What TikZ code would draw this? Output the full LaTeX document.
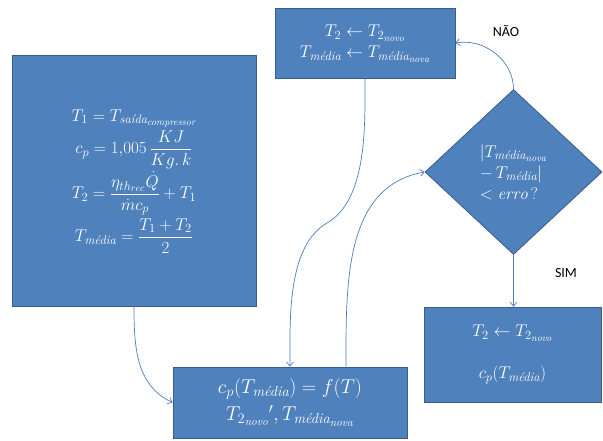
\RequirePackage{fix-cm}
\documentclass[tikz,border=0pt]{standalone}
\usepackage{amsmath}
\usepackage{fontspec}
\newfontfamily\rotulofont{Carlito}
\usetikzlibrary{shapes.geometric,arrows.meta}

\definecolor{azulcaixa}{RGB}{79,129,189}
\definecolor{azulborda}{RGB}{56,93,138}
\definecolor{azullinha}{RGB}{74,126,187}

% indices maiores, como na fonte original
\DeclareMathSizes{17}{17}{12.5}{10}
\DeclareMathSizes{20}{20}{14.5}{11.5}

\newcommand{\tmed}{T_{\textit{média}}}
\newcommand{\tmednova}{T_{\textit{média}_{\textit{nova}}}}
\newcommand{\tdoisnovo}{T_{2_{\textit{novo}}}}

\begin{document}
\begin{tikzpicture}[x=1pt, y=-1pt,
    caixa/.style={draw=azulborda, fill=azulcaixa, text=white, line width=0.8pt,
                  inner sep=0pt, align=center},
    losango/.style={caixa, diamond},
    seta/.style={draw=azullinha, line width=0.7pt, -{Straight Barb[length=4pt, width=7pt]}},
    rotulo/.style={font=\rotulofont\fontsize{14}{16}\selectfont}]

    % --- area do desenho ---
    \useasboundingbox (0,0) rectangle (603,441);

    % --- dados iniciais ---
    \node[caixa, minimum width=244pt, minimum height=251pt,
          font=\fontsize{17}{19}\selectfont] (ini) at (134,180.5)
        {\raisebox{10pt}{\begin{tabular}{c}
         $T_1 = T_{\textit{saída}_{\textit{compressor}}}$\\ \noalign{\vskip3pt}
         $c_p = 1{,}005\,\dfrac{KJ}{Kg.\,k}$\\ \noalign{\vskip3pt}
         $T_2 = \dfrac{\eta_{th_{rec}}\dot{Q}}{\dot{m}c_p} + T_1$\\ \noalign{\vskip3pt}
         $\tmed = \dfrac{T_1 + T_2}{2}$
         \end{tabular}}};

    % --- calculo de c_p ---
    \node[caixa, minimum width=234pt, minimum height=71pt,
          font=\fontsize{20}{23}\selectfont] (calc) at (290,402.5)
        {$c_p(\tmed) = f(T)$\\[4pt] $\tdoisnovo{}^{\prime},\tmednova$};

    % --- atualizacao ---
    \node[caixa, minimum width=180pt, minimum height=70pt,
          font=\fontsize{17}{21}\selectfont] (atual) at (365,43)
        {\raisebox{-4pt}{\begin{tabular}{c}
         $T_2 \leftarrow \tdoisnovo$\\
         $\tmed \leftarrow \tmednova$
         \end{tabular}}};

    % --- teste de convergencia ---
    \node[losango, minimum width=177pt, minimum height=165pt, align=left,
          font=\fontsize{17}{21}\selectfont] (teste) at (513.5,172)
        {$|\tmednova$\\ $-\,\tmed|$\\ $<\mathit{erro}\,?$};

    % --- resultado ---
    \node[caixa, minimum width=177pt, minimum height=95pt,
          font=\fontsize{17}{20}\selectfont] (fim) at (512.5,354.5)
        {$T_2 \leftarrow \tdoisnovo$\\[22pt] $c_p(\tmed)$};

    % --- rotulos ---
    \node[rotulo] (nao) at (506,31) {NÃO};
    \node[rotulo] (sim) at (566,273) {SIM};

    % --- conectores ---
    \coordinate (dobra) at (327,223);
    \draw[seta] (ini.south) to[out=-90, in=155] (calc.west);
    \draw[seta] (atual.south) to[out=-90, in=30, looseness=0.8] (dobra)
                to[out=210, in=90, looseness=0.8] (calc.north);
    \draw[seta] ([xshift=56pt]calc.north) to[out=90, in=190] (teste.west);
    \draw[seta] (teste.north) to[out=90, in=10] (atual.east);
    \draw[seta] (teste.south) -- (teste.south |- fim.north);

\end{tikzpicture}
\end{document}
